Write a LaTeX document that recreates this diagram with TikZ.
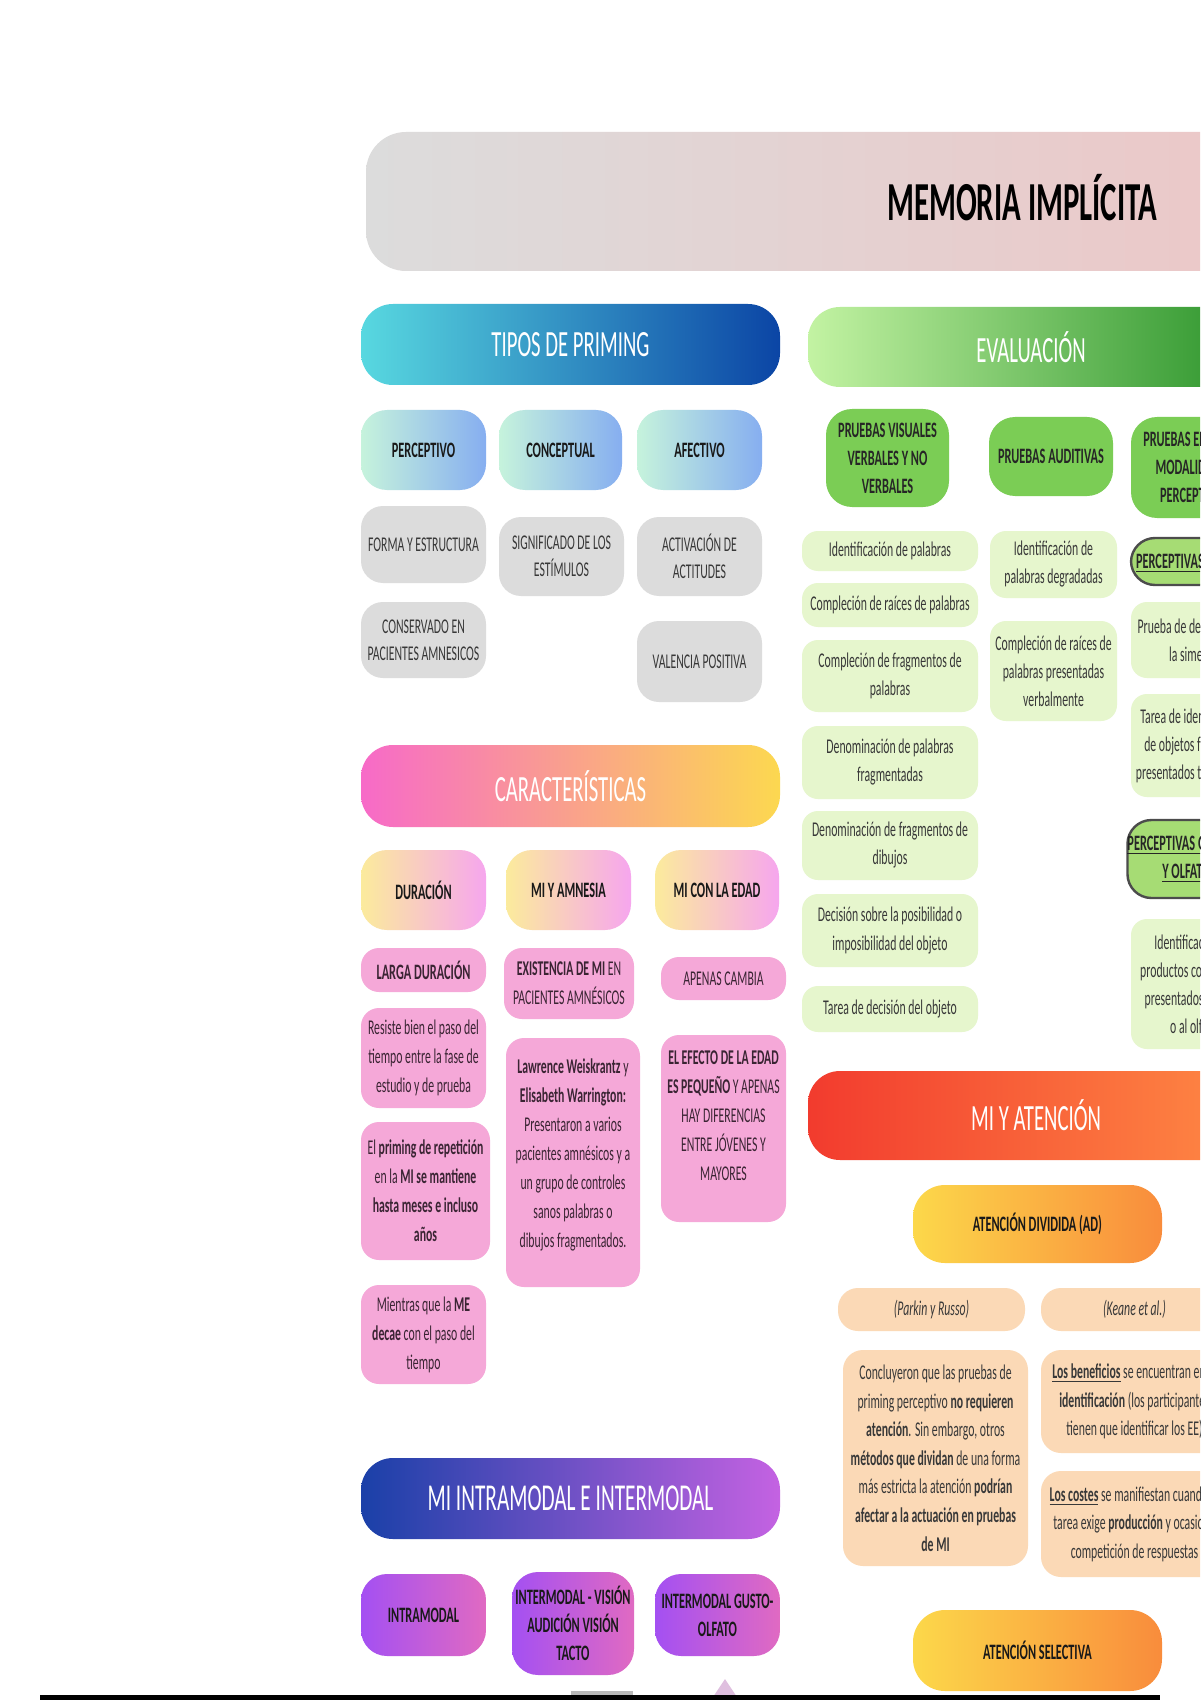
\documentclass[tikz,border=0pt]{standalone}
\usepackage{fontspec}
\setmainfont{Carlito}[FakeStretch=0.56]
\usetikzlibrary{shadings}
\definecolor{titleL}{HTML}{DCDCDC}
\definecolor{titleR}{HTML}{EDC6C6}
\definecolor{tipL}{HTML}{58D8E0}
\definecolor{tipR}{HTML}{0B45A5}
\definecolor{evL}{HTML}{C3F3A3}
\definecolor{evR}{HTML}{2A932A}
\definecolor{subL}{HTML}{C6F3DC}
\definecolor{subR}{HTML}{86AEF0}
\definecolor{grayb}{HTML}{DCDCDC}
\definecolor{evhead}{HTML}{7BCD55}
\definecolor{evitem}{HTML}{E6F6CD}
\definecolor{evout}{HTML}{A6DC74}
\definecolor{carL}{HTML}{F76AC8}
\definecolor{carM}{HTML}{F9A2A0}
\definecolor{carR}{HTML}{FCD850}
\definecolor{durL}{HTML}{FBEB9C}
\definecolor{durR}{HTML}{F6A6EE}
\definecolor{pinkb}{HTML}{F5A8D8}
\definecolor{atL}{HTML}{F23B2E}
\definecolor{atR}{HTML}{FF8C45}
\definecolor{adL}{HTML}{FCD84A}
\definecolor{adR}{HTML}{F98C3C}
\definecolor{peach}{HTML}{FBD9B6}
\definecolor{imL}{HTML}{1A40A8}
\definecolor{imR}{HTML}{C462E2}
\definecolor{ibL}{HTML}{A450F2}
\definecolor{ibR}{HTML}{E06AC2}
\definecolor{txtg}{HTML}{383838}
\definecolor{txtp}{HTML}{3A2433}
\newcommand\boxnode[7]{%
  \pgfmathsetmacro\bxw{(#5-#3)/2}%
  \pgfmathsetmacro\bxh{(#6-#4)/2}%
  \node[#1, minimum width=\bxw pt, minimum height=\bxh pt] (#2) at ({(#3+#5)/2},{(#4+#6)/2}) {#7};}
\tikzset{
  base/.style={inner sep=0pt, align=center},
  bar/.style={base, rounded corners=16pt, text=white, font=\fontsize{18.5}{22}\selectfont},
  sub/.style={base, rounded corners=13pt, text=black!90, font=\bfseries\fontsize{11}{14}\selectfont},
  grayitem/.style={base, rounded corners=11pt, fill=grayb, text=txtg, font=\fontsize{10.5}{13.5}\selectfont},
  gitem/.style={base, rounded corners=8pt, fill=evitem, text=txtg, font=\fontsize{10.5}{14}\selectfont},
  ghead/.style={base, rounded corners=13pt, fill=evhead, text=black!85, font=\bfseries\fontsize{11}{14}\selectfont},
  gout/.style={base, rounded corners=12pt, fill=evout, draw=black!70, line width=1.2pt, text=black!85, font=\bfseries\fontsize{11}{14}\selectfont},
  pitem/.style={base, rounded corners=9pt, fill=pinkb, text=txtp, font=\fontsize{10.5}{14.5}\selectfont},
  peachitem/.style={base, rounded corners=10pt, fill=peach, text=txtg, font=\fontsize{10.5}{14.3}\selectfont},
}
\begin{document}
\begin{tikzpicture}[x=0.5pt,y=-0.5pt]
\useasboundingbox (0,0) rectangle (1200,1700);
\clip (0,0) rectangle (1200,1700);
\fill[white] (0,0) rectangle (1200,1700);

% title
\boxnode{base, rounded corners=20pt, left color=titleL, right color=titleR}{titlebar}{366}{132}{1320}{271}{}
\node[font=\bfseries\fontsize{27.5}{32}\selectfont, text=black] (title) at (1022,198) {MEMORIA IMPLÍCITA};

% TIPOS DE PRIMING
\boxnode{bar, left color=tipL, right color=tipR}{tipos}{361}{304}{780}{385}{TIPOS DE PRIMING}
\boxnode{sub, left color=subL, right color=subR}{perc}{361}{410}{486}{490}{PERCEPTIVO}
\boxnode{sub, left color=subL, right color=subR}{conc}{499}{410}{622}{490}{CONCEPTUAL}
\boxnode{sub, left color=subL, right color=subR}{afec}{637}{410}{762}{490}{AFECTIVO}
\boxnode{grayitem}{forma}{361}{506}{486}{583}{FORMA Y ESTRUCTURA}
\boxnode{grayitem}{conserv}{361}{602}{486}{678}{CONSERVADO EN\\PACIENTES AMNESICOS}
\boxnode{grayitem}{signif}{499}{517}{624}{596}{SIGNIFICADO DE LOS\\ESTÍMULOS}
\boxnode{grayitem}{activ}{637}{517}{762}{596}{ACTIVACIÓN DE\\ACTITUDES}
\boxnode{grayitem}{valen}{637}{621}{762}{702}{VALENCIA POSITIVA}

% EVALUACION
\boxnode{bar, left color=evL, right color=evR}{evalua}{808}{307}{1254}{387}{EVALUACIÓN}
\boxnode{ghead}{pvis}{826}{409}{949}{507}{PRUEBAS VISUALES\\VERBALES Y NO\\VERBALES}
\boxnode{ghead}{paud}{989}{417}{1113}{496}{PRUEBAS AUDITIVAS}
\boxnode{ghead}{potr}{1131}{417}{1257}{518}{PRUEBAS EN OTRAS\\MODALIDADES\\PERCEPTIVAS}
\boxnode{gitem}{v1}{802}{531}{978}{571}{Identificación de palabras}
\boxnode{gitem}{v2}{802}{583}{978}{627}{Compleción de raíces de palabras}
\boxnode{gitem}{v3}{802}{640}{978}{712}{Compleción de fragmentos de\\palabras}
\boxnode{gitem}{v4}{802}{726}{978}{799}{Denominación de palabras\\fragmentadas}
\boxnode{gitem}{v5}{802}{811}{978}{880}{Denominación de fragmentos de\\dibujos}
\boxnode{gitem}{v6}{802}{894}{978}{967}{Decisión sobre la posibilidad o\\imposibilidad del objeto}
\boxnode{gitem}{v7}{802}{986}{978}{1032}{Tarea de decisión del objeto}
\boxnode{gitem}{a1}{990}{531}{1117}{598}{Identificación de\\palabras degradadas}
\boxnode{gitem}{a2}{990}{621}{1117}{721}{Compleción de raíces de\\palabras presentadas\\verbalmente}
\boxnode{gout}{ptac}{1131}{538}{1257}{585}{\underline{PERCEPTIVAS TÁCTILES}}
\boxnode{gitem}{o1}{1131}{602}{1257}{678}{Prueba de detección de\\la simetría}
\boxnode{gitem}{o2}{1131}{694}{1257}{797}{Tarea de identificación\\de objetos familiares\\presentados táctilmente}
\boxnode{gout}{pgus}{1131}{820}{1257}{898}{\underline{PERCEPTIVAS GUSTATIVAS}\\\underline{Y OLFATIVAS}}
\boxnode{gitem}{o3}{1131}{919}{1257}{1049}{Identificación de\\productos comestibles\\presentados al gusto\\o al olfato}

% CARACTERISTICAS
\boxnode{bar, left color=carL, middle color=carM, right color=carR}{caract}{361}{745}{780}{827}{CARACTERÍSTICAS}
\boxnode{sub, left color=durL, right color=durR}{durac}{361}{850}{486}{930}{DURACIÓN}
\boxnode{sub, left color=durL, right color=durR}{amnes}{506}{850}{631}{930}{MI Y AMNESIA}
\boxnode{sub, left color=durL, right color=durR}{edad}{655}{850}{779}{930}{MI CON LA EDAD}
\boxnode{pitem, font=\bfseries\fontsize{11}{14}\selectfont}{p1}{361}{948}{486}{992}{LARGA DURACIÓN}
\boxnode{pitem}{p2}{361}{1008}{486}{1108}{Resiste bien el paso del\\tiempo entre la fase de\\estudio y de prueba}
\boxnode{pitem}{p3}{361}{1122}{490}{1260}{El \textbf{priming de repetición}\\en la \textbf{MI se mantiene}\\\textbf{hasta meses e incluso}\\\textbf{años}}
\boxnode{pitem}{p4}{361}{1285}{486}{1384}{Mientras que la \textbf{ME}\\\textbf{decae} con el paso del\\tiempo}
\boxnode{pitem}{p5}{504}{948}{634}{1019}{\textbf{EXISTENCIA DE MI} EN\\PACIENTES AMNÉSICOS}
\boxnode{pitem}{p6}{506}{1038}{640}{1287}{\textbf{Lawrence Weiskrantz} y\\\textbf{Elisabeth Warrington:}\\Presentaron a varios\\pacientes amnésicos y a\\un grupo de controles\\sanos palabras o\\dibujos fragmentados.\\[-4.7pt]}
\boxnode{pitem}{p7}{661}{957}{786}{1000}{APENAS CAMBIA}
\boxnode{pitem}{p8}{661}{1035}{786}{1222}{\textbf{EL EFECTO DE LA EDAD}\\\textbf{ES PEQUEÑO} Y APENAS\\HAY DIFERENCIAS\\ENTRE JÓVENES Y\\MAYORES\\[-1.5pt]}

% MI INTRAMODAL
\boxnode{bar, left color=imL, right color=imR, font=\fontsize{19}{23}\selectfont}{intra}{361}{1458}{780}{1539}{MI INTRAMODAL E INTERMODAL}
\boxnode{sub, left color=ibL, right color=ibR}{m1}{361}{1574}{486}{1656}{INTRAMODAL}
\boxnode{sub, left color=ibL, right color=ibR}{m2}{512}{1572}{634}{1675}{INTERMODAL - VISIÓN\\AUDICIÓN VISIÓN\\TACTO}
\boxnode{sub, left color=ibL, right color=ibR}{m3}{655}{1574}{780}{1656}{INTERMODAL GUSTO-\\OLFATO}

% MI Y ATENCION
\boxnode{bar, left color=atL, right color=atR}{atenc}{808}{1071}{1264}{1160}{MI Y ATENCIÓN}
\boxnode{sub, rounded corners=16pt, left color=adL, right color=adR}{adiv}{913}{1185}{1162}{1263}{ATENCIÓN DIVIDIDA (AD)}
\boxnode{peachitem, font=\itshape\fontsize{10.5}{14}\selectfont}{parkin}{838}{1288}{1025}{1331}{(Parkin y Russo)}
\boxnode{peachitem, font=\itshape\fontsize{10.5}{14}\selectfont}{keane}{1041}{1288}{1228}{1331}{(Keane et al.)}
\boxnode{peachitem}{ptext}{843}{1350}{1028}{1566}{Concluyeron que las pruebas de\\priming perceptivo \textbf{no requieren}\\\textbf{atención}. Sin embargo, otros\\\textbf{métodos que dividan} de una forma\\más estricta la atención \textbf{podrían}\\\textbf{afectar a la actuación en pruebas}\\\textbf{de MI}}
\boxnode{peachitem}{ktext1}{1041}{1350}{1228}{1453}{\underline{\textbf{Los beneficios}} se encuentran en la\\\textbf{identificación} (los participantes\\tienen que identificar los EE)}
\boxnode{peachitem}{ktext2}{1041}{1471}{1228}{1577}{\underline{\textbf{Los costes}} se manifiestan cuando la\\tarea exige \textbf{producción} y ocasiona\\competición de respuestas}
\boxnode{sub, rounded corners=16pt, left color=adL, right color=adR}{asel}{913}{1610}{1162}{1691}{ATENCIÓN SELECTIVA}

% bottom fragments
\fill[gray!55] (571,1691) rectangle (633,1697);
\fill[violet!25] (713,1697) -- (725,1679) -- (737,1697) -- cycle;
\fill[black] (40,1695) rectangle (1160,1700);
\end{tikzpicture}
\end{document}
